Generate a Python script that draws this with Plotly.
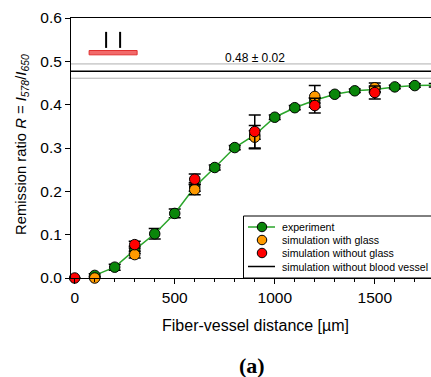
import plotly.graph_objects as go

# --- data ---
exp_x = [100, 200, 300, 400, 500, 600, 700, 800, 900, 1000, 1100, 1200, 1300, 1400, 1500, 1600, 1700, 1800]
exp_y = [0.006, 0.025, 0.065, 0.102, 0.149, 0.210, 0.255, 0.301, 0.330, 0.371, 0.393, 0.410, 0.424, 0.432, 0.435, 0.441, 0.444, 0.445]
exp_err = [0.004, 0.007, 0.008, 0.012, 0.010, 0.010, 0.006, 0.005, 0.010, 0.005, 0.005, 0.006, 0.004, 0.004, 0.005, 0.004, 0.004, 0.004]

glass_x = [100, 300, 600, 900, 1200, 1500]
glass_y = [0.000, 0.054, 0.204, 0.325, 0.419, 0.439]
glass_err = [0.004, 0.008, 0.012, 0.027, 0.025, 0.011]

noglass_x = [0, 300, 600, 900, 1200, 1500]
noglass_y = [0.000, 0.077, 0.228, 0.338, 0.398, 0.428]
noglass_err = [0.0, 0.008, 0.012, 0.038, 0.017, 0.015]

novessel_x = [-100, 2100]
novessel_mean = 0.477
novessel_band = [0.461, 0.494]
novessel_label = "0.48 ± 0.02"

legend_names = ["experiment", "simulation with glass", "simulation without glass",
                "simulation without blood vessel"]

# inset schematic (fibers above vessel)
vessel_bar_x = [72, 312]
vessel_bar_y = 0.520
fiber_x = [157, 227]
fiber_y = [0.531, 0.568]

font = "Liberation Sans, Arial, sans-serif"
GREEN_LINE = "#2aa52a"
GREEN = "#0a860a"
ORANGE = "#ff9a00"
RED = "#ff0000"

fig = go.Figure()

for yb in novessel_band:
    fig.add_trace(go.Scatter(x=novessel_x, y=[yb, yb], mode="lines",
                             line=dict(color="#b0b0b0", width=1), showlegend=False,
                             hoverinfo="skip"))

fig.add_trace(go.Scatter(
    x=novessel_x, y=[novessel_mean, novessel_mean], mode="lines",
    name=legend_names[3], showlegend=False,
    line=dict(color="black", width=1.5)))

fig.add_trace(go.Scatter(
    x=exp_x, y=exp_y, mode="lines+markers", name=legend_names[0], showlegend=False,
    line=dict(color=GREEN_LINE, width=1.5),
    marker=dict(size=10.5, color=GREEN, line=dict(color="black", width=1)),
    error_y=dict(type="data", array=exp_err, color="black", thickness=1.5, width=6),
    cliponaxis=False))

fig.add_trace(go.Scatter(
    x=glass_x, y=glass_y, mode="markers", name=legend_names[1], showlegend=False,
    marker=dict(size=10.5, color=ORANGE, line=dict(color="black", width=1)),
    error_y=dict(type="data", array=glass_err, color="black", thickness=1.5, width=6),
    cliponaxis=False))

fig.add_trace(go.Scatter(
    x=noglass_x, y=noglass_y, mode="markers", name=legend_names[2], showlegend=False,
    marker=dict(size=10.5, color=RED, line=dict(color="black", width=1)),
    error_y=dict(type="data", array=noglass_err, color="black", thickness=1.5, width=6),
    cliponaxis=False))

# inset schematic
fig.add_shape(type="rect", x0=vessel_bar_x[0], x1=vessel_bar_x[1],
              y0=vessel_bar_y - 0.005, y1=vessel_bar_y + 0.005,
              fillcolor="#f26a6a", line=dict(color="#e03030", width=1))
for fx in fiber_x:
    fig.add_shape(type="line", x0=fx, x1=fx, y0=fiber_y[0], y1=fiber_y[1],
                  line=dict(color="black", width=2))

fig.add_annotation(x=900, y=0.507, text=novessel_label, showarrow=False,
                   font=dict(family=font, size=12, color="black"))

# ---- manual legend on an overlay axis measured in pixels ----
leg_left, leg_top, leg_bottom = 243.5, 216, 278
leg_rows = [227, 240, 253, 266.5]
sym_x, line_x0, line_x1, text_x = 262, 248, 275, 280

fig.add_shape(type="rect", xref="x2", yref="y2", x0=leg_left, x1=445, y0=leg_top, y1=leg_bottom,
              fillcolor="white", line=dict(color="black", width=1), layer="below")
fig.add_shape(type="line", xref="x2", yref="y2", x0=line_x0, x1=line_x1,
              y0=leg_rows[0], y1=leg_rows[0], line=dict(color=GREEN_LINE, width=1.5), layer="below")
fig.add_shape(type="line", xref="x2", yref="y2", x0=line_x0, x1=line_x1,
              y0=leg_rows[3], y1=leg_rows[3], line=dict(color="black", width=1.5), layer="below")
fig.add_trace(go.Scatter(
    x=[sym_x] * 3, y=leg_rows[:3], xaxis="x2", yaxis="y2", mode="markers",
    marker=dict(size=9.5, color=[GREEN, ORANGE, RED], line=dict(color="black", width=1)),
    showlegend=False, hoverinfo="skip", cliponaxis=False))
for name, yy in zip(legend_names, leg_rows):
    fig.add_annotation(xref="x2", yref="y2", x=text_x, y=yy, text=name, xanchor="left",
                       yanchor="middle", showarrow=False,
                       font=dict(family=font, size=10.6, color="black"))

fig.add_annotation(xref="paper", yref="paper", x=-0.136, y=0.512, textangle=-90,
                   xanchor="center", yanchor="middle",
                   text="Remission ratio <i>R</i> = <i>I</i><sub><i>578</i></sub>/<i>I</i><sub><i>650</i></sub>",
                   showarrow=False, font=dict(family=font, size=14.8, color="black"))
fig.add_annotation(xref="paper", yref="paper", x=0.5125, y=-0.181,
                   xanchor="center", yanchor="middle",
                   text="Fiber-vessel distance [µm]", showarrow=False,
                   font=dict(family=font, size=16, color="black"))
fig.add_annotation(xref="paper", yref="paper", x=0.503, y=-0.335,
                   xanchor="center", yanchor="middle",
                   text="<b>(a)</b>", showarrow=False,
                   font=dict(family="Liberation Serif, Times New Roman, serif", size=22, color="black"))

fig.update_xaxes(range=[-18.5, 1781], tickmode="array", tickvals=[0, 500, 1000, 1500],
                 ticks="outside", ticklen=5, tickwidth=1, tickcolor="black",
                 minor=dict(dtick=100, tick0=0, ticks="outside", ticklen=3, tickcolor="black"),
                 showline=True, linecolor="black", linewidth=1, mirror=True,
                 showgrid=False, zeroline=False,
                 tickfont=dict(family=font, size=15.5, color="black"))
fig.update_yaxes(range=[0, 0.6], dtick=0.1, tickformat=".1f",
                 ticks="outside", ticklen=5, tickwidth=1, tickcolor="black",
                 showline=True, linecolor="black", linewidth=1, mirror=True,
                 showgrid=False, zeroline=False,
                 tickfont=dict(family=font, size=15.5, color="black"))

fig.update_layout(
    width=431, height=377,
    margin=dict(l=71, r=0, t=18, b=99),
    plot_bgcolor="white", paper_bgcolor="white",
    showlegend=False,
    xaxis2=dict(overlaying="x", range=[71, 431], visible=False, fixedrange=True),
    yaxis2=dict(overlaying="y", range=[278, 18], visible=False, fixedrange=True),
)

fig.write_html("out.html")
